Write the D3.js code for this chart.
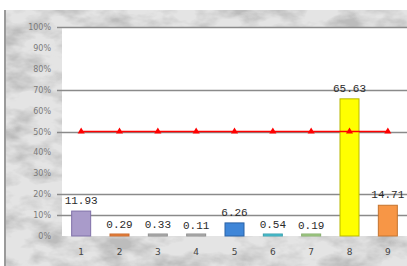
<!DOCTYPE html>
<html>
<head>
<meta charset="utf-8">
<script src="https://d3js.org/d3.v7.min.js"></script>
<style>
  body { margin: 0; background: #fff; }
  svg { display: block; }
</style>
</head>
<body>
<div id="chart"></div>
<script>
// data
const categories = ["1", "2", "3", "4", "5", "6", "7", "8", "9"];
const values = [11.93, 0.29, 0.33, 0.11, 6.26, 0.54, 0.19, 65.63, 14.71];
const labels = ["11.93", "0.29", "0.33", "0.11", "6.26", "0.54", "0.19", "65.63", "14.71"];
const targetLine = [50, 50, 50, 50, 50, 50, 50, 50, 50];
const yTicks = [0, 10, 20, 30, 40, 50, 60, 70, 80, 90, 100];
const gridTicks = [10, 20, 50, 70, 100];
const barColors = ["#a99bca", "#ee8440", "#b4b4b4", "#b4b4b4", "#3f86d8", "#4cc7d7", "#a7d28b", "#ffff00", "#f79646"];
const barStrokes = ["#7f70a8", "#c86a2c", "#909090", "#909090", "#2b62a6", "#3aa0ae", "#86ad6c", "#b8b800", "#c4742e"];

const W = 407, H = 266;
const svg = d3.select("#chart").append("svg").attr("width", W).attr("height", H);

// marble-like background
const defs = svg.append("defs");
const f = defs.append("filter").attr("id", "marble").attr("x", 0).attr("y", 0).attr("width", "100%").attr("height", "100%");
f.append("feTurbulence").attr("type", "fractalNoise").attr("baseFrequency", "0.03 0.055")
  .attr("numOctaves", 4).attr("seed", 7).attr("result", "n");
f.append("feColorMatrix").attr("type", "matrix")
  .attr("values", "0 0 0 0 0.5  0 0 0 0 0.5  0 0 0 0 0.5  2.6 0 0 0 -1.05").attr("result", "c");
f.append("feComposite").attr("in", "c").attr("in2", "SourceGraphic").attr("operator", "over");

svg.append("rect").attr("x", 5).attr("y", 10).attr("width", W - 5).attr("height", H - 10)
  .attr("fill", "#e4e4e4").attr("filter", "url(#marble)");
svg.append("line").attr("x1", 5).attr("x2", 5).attr("y1", 10).attr("y2", H)
  .attr("stroke", "#9a9a9a").attr("stroke-width", 2);

// title, mostly cut off at the top as in the picture
svg.append("text").attr("x", 12).attr("y", -4)
  .attr("font-family", "Liberation Serif").attr("font-size", 18).attr("font-weight", "bold")
  .attr("fill", "#111").text("(Application survey by category, %)");

const x = d3.scaleBand().domain(categories).range([62, 407]).padding(0);
const y = d3.scaleLinear().domain([0, 100]).range([236, 27]);

// plot area
svg.append("rect").attr("x", 62).attr("y", y(100)).attr("width", W - 62).attr("height", y(0) - y(100))
  .attr("fill", "#fff");

// gridlines
svg.append("g").selectAll("line").data(gridTicks).join("line")
  .attr("x1", 57).attr("x2", W)
  .attr("y1", d => Math.round(y(d)) + 0.5).attr("y2", d => Math.round(y(d)) + 0.5)
  .attr("stroke", "#8a8a8a").attr("stroke-width", 1.3);

// y axis labels
const yAxis = svg.append("g").attr("transform", "translate(51,0)")
  .call(d3.axisLeft(y).tickValues(yTicks).tickSize(0).tickPadding(0).tickFormat(d => d + "%"));
yAxis.select(".domain").remove();
yAxis.selectAll("text").attr("font-family", "DejaVu Sans").attr("font-size", 8)
  .attr("fill", "#7a7a7a");

// bars
const bw = 19;
svg.append("g").selectAll("rect").data(values).join("rect")
  .attr("x", (d, i) => x(categories[i]) + x.bandwidth() / 2 - bw / 2)
  .attr("y", d => Math.min(y(d), y(0) - 2))
  .attr("width", bw)
  .attr("height", d => Math.max(y(0) - y(d), 2))
  .attr("fill", (d, i) => barColors[i])
  .attr("stroke", (d, i) => barStrokes[i]).attr("stroke-width", 1);

// value labels
svg.append("g").selectAll("text").data(values).join("text")
  .attr("x", (d, i) => x(categories[i]) + x.bandwidth() / 2)
  .attr("y", d => y(d) - 7)
  .attr("text-anchor", "middle")
  .attr("font-family", "Liberation Mono").attr("font-size", 11)
  .attr("fill", "#2a2a2a").text((d, i) => labels[i]);

// 50% line with markers
const line = d3.line().x((d, i) => x(categories[i]) + x.bandwidth() / 2).y(d => y(d));
svg.append("path").datum(targetLine).attr("d", line)
  .attr("fill", "none").attr("stroke", "#ff0000").attr("stroke-width", 1.6);
svg.append("g").selectAll("path").data(targetLine).join("path")
  .attr("transform", (d, i) => `translate(${x(categories[i]) + x.bandwidth() / 2},${y(d)})`)
  .attr("d", d3.symbol(d3.symbolTriangle, 22))
  .attr("fill", "#ff0000");

// x axis labels
const xAxis = svg.append("g").attr("transform", `translate(0,${y(0)})`)
  .call(d3.axisBottom(x).tickSize(0).tickPadding(13));
xAxis.select(".domain").remove();
xAxis.selectAll("text").attr("font-family", "DejaVu Sans").attr("font-size", 9)
  .attr("fill", "#444");
</script>
</body>
</html>
